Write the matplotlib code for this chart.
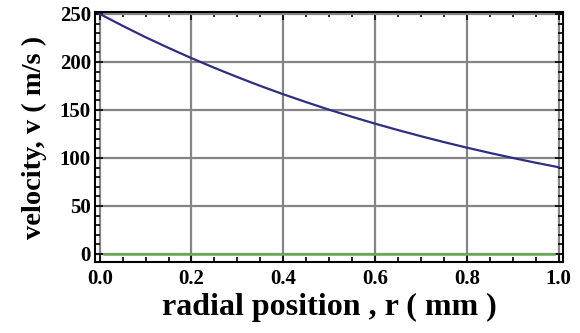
import matplotlib.pyplot as plt
from matplotlib.ticker import MultipleLocator

r = [0.0, 0.05, 0.1, 0.15, 0.2, 0.25, 0.3, 0.35, 0.4, 0.45, 0.5,
     0.55, 0.6, 0.65, 0.7, 0.75, 0.8, 0.85, 0.9, 0.95, 1.0]
velocity = [250, 237.6, 225.7, 214.6, 203.9, 193.8, 184.2, 175.0, 166.3, 158.1, 150.2,
            142.8, 135.7, 129.0, 122.6, 116.5, 110.7, 105.2, 100.0, 95.0, 90.3]
r_base = [0.01, 0.99]
base = [0, 0]

plt.rcParams['font.family'] = ['Liberation Serif', 'DejaVu Serif']

fig = plt.figure(figsize=(5.8, 3.33), dpi=100)
ax = fig.add_axes([0.164, 0.213, 0.807, 0.751])

ax.plot(r, velocity, color='#2e2e82', lw=1.6)
ax.plot(r_base, base, color='#6aa85a', lw=1.8)

ax.set_xlim(-0.01, 1.01)
ax.set_ylim(-8.5, 252)
ax.xaxis.set_major_locator(MultipleLocator(0.2))
ax.xaxis.set_minor_locator(MultipleLocator(0.05))
ax.yaxis.set_major_locator(MultipleLocator(50))
ax.yaxis.set_minor_locator(MultipleLocator(10))
ax.xaxis.set_major_formatter(plt.FormatStrFormatter('%.1f'))

ax.grid(True, which='major', color='#858585', lw=1.6)
ax.tick_params(which='both', direction='in', top=True, right=True,
               labelsize=15, width=1.2, colors='black')
ax.tick_params(which='major', length=6, pad=3)
ax.tick_params(axis='x', which='major', pad=5)
ax.tick_params(which='minor', length=3.5)
for lab in ax.get_xticklabels() + ax.get_yticklabels():
    lab.set_fontweight('bold')
for s in ax.spines.values():
    s.set_linewidth(1.5)

ax.set_xlabel('radial position , r ( mm )', fontsize=23, fontweight='bold', labelpad=3)
ax.set_ylabel('velocity, v ( m/s )', fontsize=20.5, fontweight='bold', labelpad=9)

fig.savefig('out.png', dpi=100)
